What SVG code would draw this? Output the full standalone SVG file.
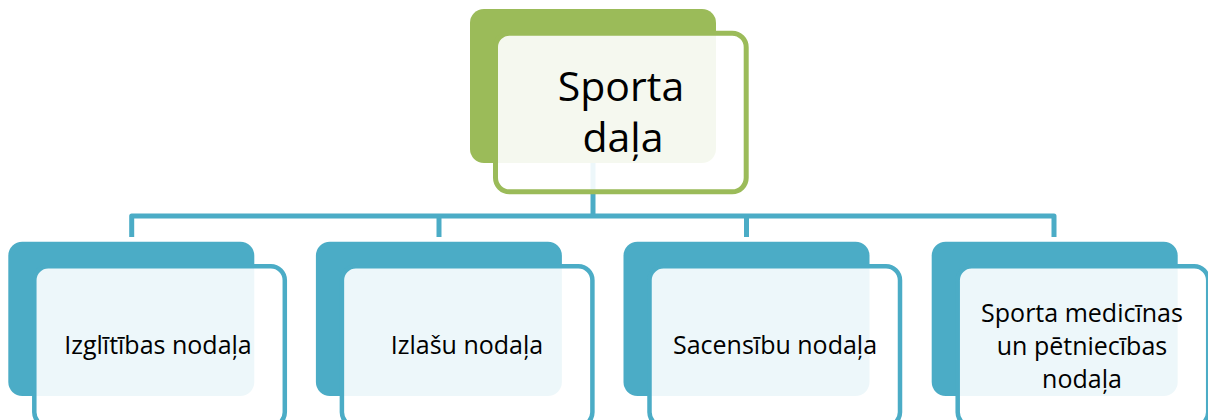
<svg xmlns="http://www.w3.org/2000/svg" width="1208" height="420" viewBox="0 0 1208 420">
<style>
.bf{fill:#4BACC6}
.bo{fill:#fff;fill-opacity:0.9;stroke:#4BACC6;stroke-width:4.5}
.gf{fill:#9BBB59}
.go{fill:#fff;fill-opacity:0.9;stroke:#9BBB59;stroke-width:5}
.t{font-family:"Open Sans","Noto Sans",sans-serif;fill:#000;text-anchor:middle}
.s{font-size:25px}
.c{fill:none;stroke:#4BACC6;stroke-width:5;stroke-linejoin:round}
</style>
<rect width="1208" height="420" fill="#fff"/>
<g id="connectors">
<path class="c" d="M593 100V216"/>
<path class="c" d="M131.7 237V216H1054V237"/>
<path class="c" d="M439 237V216"/>
<path class="c" d="M746.5 237V216"/>
</g>
<g id="n0">
<rect class="gf" x="470" y="9" width="246" height="154" rx="14"/>
<rect class="go" x="495.5" y="33.2" width="250.7" height="158.6" rx="14"/>
<text class="t" font-size="41"><tspan x="621" y="101">Sporta</tspan><tspan x="623" y="152">daļa</tspan></text>
</g>
<g id="n1">
<rect class="bf" x="8.3" y="241.7" width="246" height="154.3" rx="14"/>
<rect class="bo" x="34.3" y="266.3" width="250.5" height="160" rx="14"/>
<text class="t s" x="158" y="354">Izglītības nodaļa</text>
</g>
<g id="n2">
<rect class="bf" x="315.9" y="241.7" width="246" height="154.3" rx="14"/>
<rect class="bo" x="341.9" y="266.3" width="250.5" height="160" rx="14"/>
<text class="t s" x="467" y="354">Izlašu nodaļa</text>
</g>
<g id="n3">
<rect class="bf" x="623.5" y="241.7" width="246" height="154.3" rx="14"/>
<rect class="bo" x="649.5" y="266.3" width="250.5" height="160" rx="14"/>
<text class="t s" x="775" y="354">Sacensību nodaļa</text>
</g>
<g id="n4">
<rect class="bf" x="931.7" y="241.7" width="246" height="154.3" rx="14"/>
<rect class="bo" x="957.7" y="266.3" width="250.5" height="160" rx="14"/>
<text class="t s"><tspan x="1082" y="322">Sporta medicīnas</tspan><tspan x="1082" y="355">un pētniecības</tspan><tspan x="1082" y="388">nodaļa</tspan></text>
</g>
</svg>
